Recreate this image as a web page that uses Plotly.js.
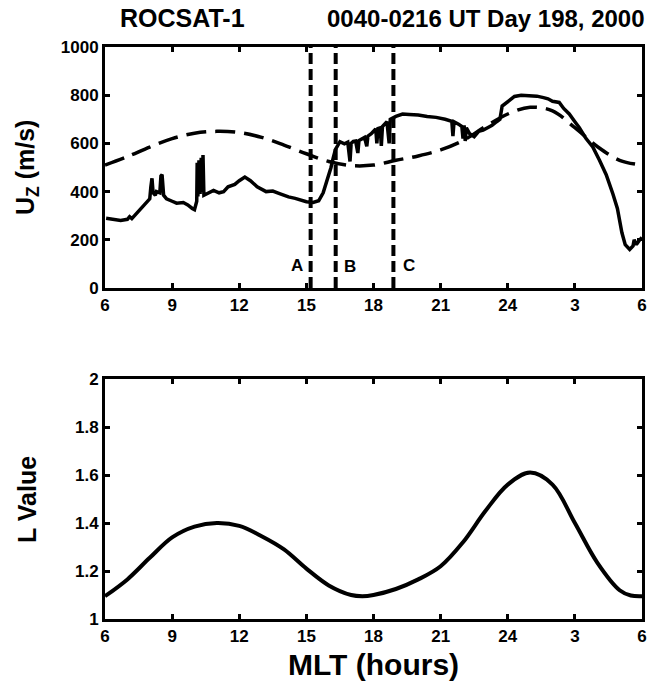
<!DOCTYPE html>
<html>
<head>
<meta charset="utf-8">
<script src="https://cdn.plot.ly/plotly-3.0.1.min.js"></script>
<style>html,body{margin:0;padding:0;background:#fff;}#chart{width:660px;height:685px;}</style>
</head>
<body>
<div id="chart"></div>
<script>
// ---- Data ----
var uzHours = [6.05,6.4,6.7,7.0,7.1,7.2,7.5,7.8,8.0,8.05,8.1,8.15,8.25,8.3,8.45,8.5,8.55,8.62,8.75,9.0,9.2,9.5,9.7,9.9,10.0,10.1,10.12,10.15,10.2,10.25,10.3,10.35,10.38,10.42,10.6,10.85,11.1,11.3,11.5,11.8,12.0,12.25,12.5,12.8,13.2,13.5,13.8,14.2,14.5,14.8,15.0,15.3,15.55,15.75,15.95,16.1,16.2,16.3,16.5,16.7,16.85,16.9,16.95,17.0,17.1,17.2,17.3,17.35,17.6,17.7,17.75,17.9,18.1,18.15,18.2,18.3,18.35,18.4,18.5,18.6,18.7,18.75,19.0,19.3,19.6,20.0,20.4,20.8,21.2,21.5,21.55,21.6,21.8,21.95,22.0,22.05,22.1,22.15,22.3,22.5,22.7,22.9,23.1,23.3,23.5,23.65,23.75,24.0,24.3,24.6,25.0,25.3,25.6,25.8,26.0,26.3,26.5,26.75,27.0,27.2,27.5,27.8,28.1,28.4,28.7,28.9,29.1,29.25,29.45,29.6,29.65,29.75,29.9,30.0];
var uzValues = [289,283,280,285,296,288,318,345,370,420,455,395,385,400,395,465,470,385,370,360,352,355,345,330,325,360,520,380,530,390,540,400,552,385,395,405,395,400,420,430,445,460,445,420,400,402,392,378,372,362,358,355,362,395,450,500,540,575,607,598,605,540,525,600,608,610,560,612,625,588,630,640,660,600,662,665,590,670,682,690,600,700,712,722,720,718,712,708,700,692,630,690,680,670,620,675,610,665,640,628,650,655,665,675,690,700,755,775,795,800,798,796,790,785,775,770,745,722,690,665,620,585,530,470,390,330,230,180,160,175,200,180,200,210];

var modelHours = [6,7,8,9,10,11,12,13,14,15,16,17,18,19,20,21,22,23,24,25,26,27,28,29,30];
var modelValues = [510,545,585,620,642,650,645,625,593,557,525,508,510,530,548,573,612,670,722,750,735,665,587,530,510];

var lHours = [6,7,8,9,10,11,12,13,14,15,16,17,17.5,18,19,20,21,22,23,24,25,26,27,28,29,29.5,30];
var lValues = [1.095,1.165,1.255,1.34,1.385,1.40,1.388,1.345,1.29,1.21,1.14,1.10,1.095,1.10,1.125,1.165,1.22,1.32,1.45,1.56,1.61,1.56,1.40,1.235,1.12,1.098,1.095];

var eventHours = [15.19, 16.31, 18.89];
var eventLabels = ['A', 'B', 'C'];
var eventLabelX = [14.57, 16.95, 19.59];
var eventLabelY = [95, 88, 95];

var tickVals = [6,9,12,15,18,21,24,27,30];
var tickText = ['6','9','12','15','18','21','24','3','6'];

// ---- Traces ----
var traces = [];
traces.push({x: uzHours, y: uzValues, xaxis:'x', yaxis:'y', mode:'lines',
  line:{color:'#000', width:3.5}, hoverinfo:'skip'});
traces.push({x: modelHours, y: modelValues, xaxis:'x', yaxis:'y', mode:'lines',
  line:{color:'#000', width:3.5, dash:'20px,9px', shape:'spline', smoothing:1}, hoverinfo:'skip'});
eventHours.forEach(function(h){
  traces.push({x:[h,h], y:[0,1000], xaxis:'x', yaxis:'y', mode:'lines',
    line:{color:'#000', width:4, dash:'11px,5px'}, hoverinfo:'skip'});
});
traces.push({x: lHours, y: lValues, xaxis:'x2', yaxis:'y2', mode:'lines',
  line:{color:'#000', width:4, shape:'spline', smoothing:1}, hoverinfo:'skip'});

var FONT = 'Liberation Sans, Arial, sans-serif';
function axisStyle(extra){
  var a = {showline:true, linewidth:3, linecolor:'#000', mirror:'ticks',
    ticks:'inside', ticklen:5, tickwidth:3, tickcolor:'#000',
    showgrid:false, zeroline:false,
    tickfont:{family:FONT, size:17, color:'#000', weight:'bold'}};
  for (var k in extra) a[k] = extra[k];
  return a;
}

var annotations = [];
eventLabels.forEach(function(t,i){
  annotations.push({x:eventLabelX[i], y:eventLabelY[i], xref:'x', yref:'y', text:t,
    showarrow:false, font:{family:FONT, size:17, color:'#000', weight:'bold'}});
});
annotations.push({x:(182-105)/537, y:(619-18)/572, xref:'paper', yref:'paper',
  text:'ROCSAT-1', showarrow:false, xanchor:'center', yanchor:'middle',
  font:{family:FONT, size:25, color:'#000', weight:'bold'}});
annotations.push({x:(647-105)/537, y:(619-18)/572, xref:'paper', yref:'paper',
  text:'0040-0216 UT Day 198, 2000', showarrow:false, xanchor:'right', yanchor:'middle',
  font:{family:FONT, size:24, color:'#000', weight:'bold'}});
annotations.push({x:(27-105)/537, y:(619-167)/572, xref:'paper', yref:'paper',
  text:'U<sub>Z</sub> (m/s)', textangle:-90, showarrow:false, xanchor:'center', yanchor:'middle',
  font:{family:FONT, size:25, color:'#000', weight:'bold'}});
annotations.push({x:(27-105)/537, y:(619-499)/572, xref:'paper', yref:'paper',
  text:'L Value', textangle:-90, showarrow:false, xanchor:'center', yanchor:'middle',
  font:{family:FONT, size:25, color:'#000', weight:'bold'}});
annotations.push({x:0.5, y:(619-664)/572, xref:'paper', yref:'paper',
  text:'MLT (hours)', showarrow:false, xanchor:'center', yanchor:'middle',
  font:{family:FONT, size:30, color:'#000', weight:'bold'}});

var layout = {
  width:660, height:685,
  margin:{l:105, r:18, t:47, b:66},
  paper_bgcolor:'#fff', plot_bgcolor:'#fff',
  showlegend:false,
  xaxis: axisStyle({anchor:'y', range:[6,30], tickvals:tickVals, ticktext:tickText}),
  yaxis: axisStyle({domain:[(619-288)/572, 1], range:[0,1000], dtick:200, tick0:0}),
  xaxis2: axisStyle({anchor:'y2', range:[6,30], tickvals:tickVals, ticktext:tickText}),
  yaxis2: axisStyle({domain:[0, (619-379)/572], range:[1,2], dtick:0.2, tick0:1}),
  annotations: annotations
};

Plotly.newPlot('chart', traces, layout, {displayModeBar:false, staticPlot:true});
</script>
</body>
</html>
